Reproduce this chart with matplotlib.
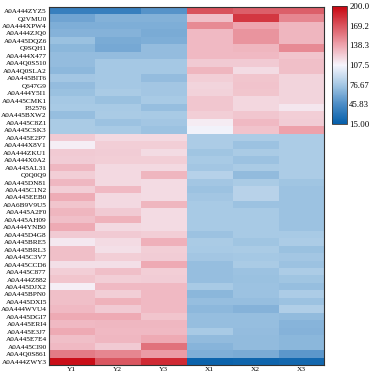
import numpy as np
import matplotlib
matplotlib.use("Agg")
import matplotlib.pyplot as plt
from matplotlib.colors import LinearSegmentedColormap

plt.rcParams['font.family'] = ['Liberation Serif', 'DejaVu Serif']

samples = ["Y1", "Y2", "Y3", "X1", "X2", "X3"]

proteins = [
    "A0A444ZYZ5", "Q2VMU0", "A0A444XPW4", "A0A444ZJQ0", "A0A445DQZ6", "Q9SQH1",
    "A0A444X477", "A0A4Q0S510", "A0A4Q0SLA2", "A0A445BIT6", "Q647G9", "A0A444Y5I1",
    "A0A445CMK1", "P32576", "A0A445BXW2", "A0A445C8Z1", "A0A445CSK3", "A0A445E2P7",
    "A0A444X8V1", "A0A444ZKU1", "A0A444X0A2", "A0A445AL31", "Q0Q0Q9", "A0A445DN81",
    "A0A445C1N2", "A0A445EEB0", "A0A6B9V9U5", "A0A445A2F0", "A0A445AH09", "A0A444YNB0",
    "A0A445D4G8", "A0A445BRE5", "A0A445BRL3", "A0A445C3V7", "A0A445CCD6", "A0A445C877",
    "A0A444Z882", "A0A445DJX2", "A0A445BPN0", "A0A445DXI5", "A0A444WVU4", "A0A445DGI7",
    "A0A445ERI4", "A0A445E3J7", "A0A445E7E4", "A0A445CI90", "A0A4Q0S861", "A0A444ZWY3",
]

# values per sample column, one entry per protein (top to bottom)
y1 = [38, 59, 64, 66, 73, 68, 71, 71, 69, 76, 71, 73, 77, 78, 72, 79, 79,
      124, 110, 124, 123, 131, 122, 131, 122, 135, 126, 132, 128, 136, 124, 112,
      128, 128, 116, 122, 126, 110, 128, 128, 130, 136, 130, 136, 128, 130, 154, 196]
y2 = [38, 65, 64, 66, 62, 61, 71, 77, 77, 77, 77, 79, 73, 78, 79, 74, 78,
      118, 122, 123, 122, 118, 118, 118, 130, 118, 118, 124, 133, 118, 124, 117,
      116, 122, 116, 128, 122, 130, 122, 133, 124, 136, 131, 130, 131, 124, 150, 168]
y3 = [50, 65, 64, 62, 64, 71, 71, 77, 77, 71, 76, 76, 78, 72, 78, 76, 74,
      118, 122, 117, 122, 118, 132, 117, 117, 117, 132, 117, 117, 117, 122, 134,
      122, 123, 136, 122, 123, 130, 130, 130, 130, 126, 131, 130, 136, 158, 142, 185]
x1 = [170, 128, 148, 130, 130, 130, 130, 124, 132, 122, 120, 121, 125, 125, 122, 111, 106,
      80, 80, 75, 78, 76, 83, 76, 74, 76, 78, 78, 78, 78, 74, 79,
      78, 76, 72, 72, 72, 78, 68, 72, 69, 72, 72, 78, 70, 67, 64, 18]
x2 = [165, 180, 138, 145, 145, 132, 130, 124, 117, 126, 127, 126, 119, 119, 125, 130, 127,
      80, 74, 79, 74, 79, 70, 79, 84, 84, 74, 78, 78, 78, 78, 75,
      79, 77, 79, 74, 73, 74, 74, 72, 66, 72, 72, 71, 70, 70, 62, 20]
x3 = [165, 150, 132, 132, 132, 148, 126, 128, 128, 120, 120, 120, 120, 113, 122, 123, 140,
      80, 80, 80, 80, 80, 80, 75, 74, 74, 74, 74, 74, 74, 78, 80,
      73, 76, 74, 80, 75, 72, 80, 74, 81, 70, 67, 66, 68, 68, 52, 22]

vmin, vmax = 15.0, 200.0
cbar_ticks = [200.0, 169.2, 138.3, 107.5, 76.67, 45.83, 15.00]
cbar_labels = ["200.0", "169.2", "138.3", "107.5", "76.67", "45.83", "15.00"]

data = np.array([y1, y2, y3, x1, x2, x3]).T

cmap = LinearSegmentedColormap.from_list("bwr_custom", [
    (0.0, (5/255, 95/255, 170/255)),
    (0.167, (75/255, 140/255, 198/255)),
    (0.333, (165/255, 200/255, 228/255)),
    (0.5, (246/255, 245/255, 252/255)),
    (0.667, (238/255, 165/255, 175/255)),
    (0.833, (218/255, 85/255, 95/255)),
    (1.0, (200/255, 5/255, 15/255)),
])

fig = plt.figure(figsize=(3.72, 3.76), dpi=100)
ax = fig.add_axes([0.1317, 0.0285, 0.7393, 0.952])
im = ax.imshow(data, cmap=cmap, vmin=vmin, vmax=vmax, aspect='auto',
               interpolation='nearest')
ax.set_xticks(range(len(samples)))
ax.set_xticklabels(samples, fontsize=5.3)
ax.set_yticks(range(len(proteins)))
ax.set_yticklabels(proteins, fontsize=5.2)
ax.tick_params(length=0, pad=1.5)
for s in ax.spines.values():
    s.set_color('#333333')
    s.set_linewidth(0.8)

cax = fig.add_axes([0.893, 0.670, 0.040, 0.314])
cb = fig.colorbar(im, cax=cax)
cb.set_ticks(cbar_ticks)
cb.set_ticklabels(cbar_labels)
cb.ax.tick_params(labelsize=6.3, length=0, pad=1.5)
cb.outline.set_edgecolor('#333333')
cb.outline.set_linewidth(0.6)

fig.savefig("out.png", dpi=100)
